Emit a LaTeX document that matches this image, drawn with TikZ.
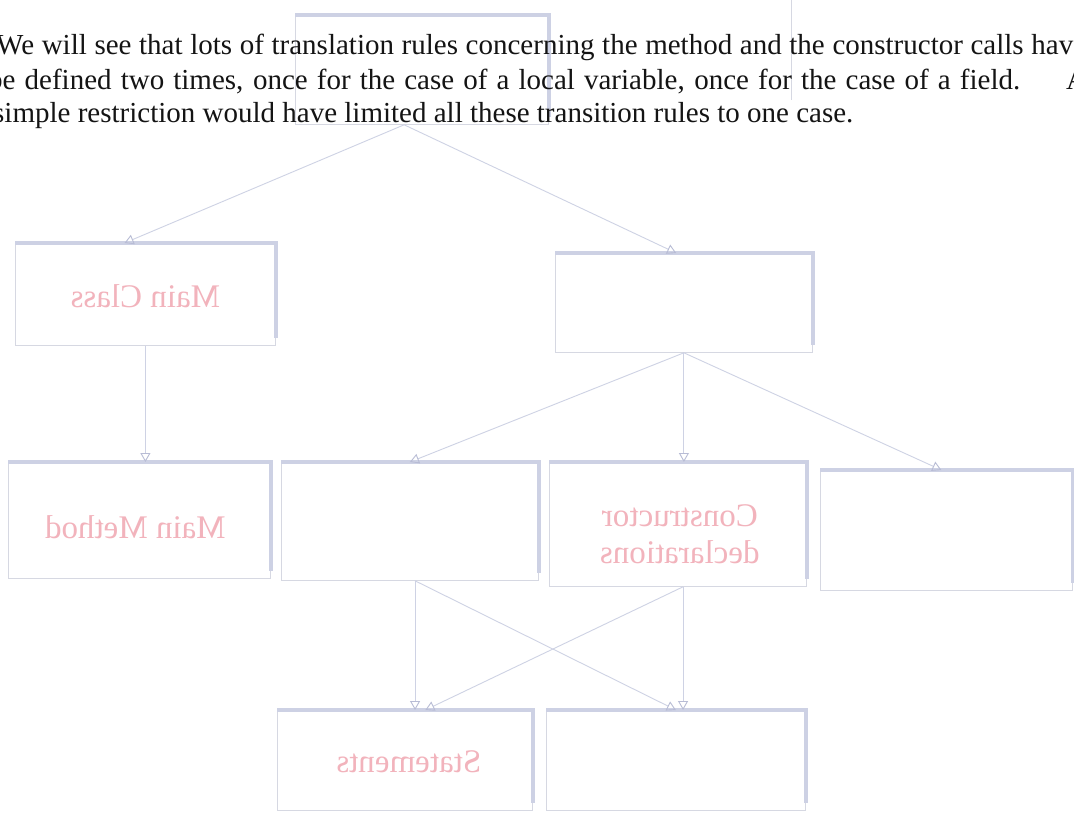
\documentclass[tikz,border=0pt]{standalone}
\usepackage{fontspec}
\setmainfont{Liberation Serif}
\usetikzlibrary{arrows.meta,calc}

\definecolor{ink}{HTML}{141414}
\definecolor{edgecol}{HTML}{D6D8E2}
\definecolor{bandcol}{HTML}{CDD1E4}
\definecolor{linkcol}{HTML}{CED2E4}
\definecolor{tipcol}{HTML}{B8BCD5}
\definecolor{labelcol}{HTML}{F2B3BC}

% mirrored label text
\newcommand{\flipped}[1]{\scalebox{-1}[1]{#1}}

\begin{document}
\begin{tikzpicture}[x=1pt,y=-1pt,
  boxnode/.style={draw=edgecol, line width=0.8pt, rectangle, inner sep=0pt, anchor=north west},
  labeltext/.style={inner sep=0pt, font=\fontsize{33}{37}\selectfont, text=labelcol, align=center},
  band/.style={draw=bandcol, line width=4.5pt},
  link/.style={draw=linkcol, line width=0.9pt,
    -{Triangle[open, length=9pt, width=10pt, color=tipcol]}},
  bodytext/.style={anchor=base west, inner sep=0pt,
    font=\fontsize{29}{33}\selectfont, text=ink}]

\useasboundingbox (0,0) rectangle (1074,813);
\clip (0,0) rectangle (1074,813);
\fill[white] (0,0) rectangle (1074,813);

% faint crease line near the top
\draw[edgecol, line width=0.8pt] (791,0) -- (791,100);

% boxes
\node[boxnode, minimum width=253pt, minimum height=109pt] (top) at (295,15) {};
\node[boxnode, minimum width=260pt, minimum height=102pt] (mc) at (15,243) {};
\node[boxnode, minimum width=257pt, minimum height=99pt] (cm) at (555,253) {};
\node[boxnode, minimum width=262pt, minimum height=116pt] (mm) at (8,462) {};
\node[boxnode, minimum width=257pt, minimum height=118pt] (md) at (281,462) {};
\node[boxnode, minimum width=257pt, minimum height=124pt] (cd) at (549,462) {};
\node[boxnode, minimum width=252pt, minimum height=120pt] (fd) at (820,470) {};
\node[boxnode, minimum width=255pt, minimum height=100pt] (st) at (277,710) {};
\node[boxnode, minimum width=259pt, minimum height=100pt] (sb) at (546,710) {};

% mirrored box labels
\node[labeltext] (mclabel) at ($(mc.center)+(0,2)$) {\flipped{Main Class}};
\node[labeltext] (mmlabel) at ($(mm.center)+(-4,7)$) {\flipped{Main Method}};
\node[labeltext] (cdlabel) at ($(cd.center)+(2,13)$)
  {\flipped{\begin{tabular}{@{}c@{}}Constructor\\declarations\end{tabular}}};
\node[labeltext] (stlabel) at ($(st.center)+(4,1)$) {\flipped{Statements}};

% shadow bands along the top and right edge of each box
\foreach \n in {top,mc,cm,mm,md,cd,fd,st,sb}{
  \draw[band] (\n.north west) -- (\n.north east) -- ($(\n.south east)+(0,-8)$);
}

% connectors
\coordinate (topout) at ($(top.south west)!0.43!(top.south east)$);
\coordinate (mdout) at ($(md.south west)!0.52!(md.south east)$);
\coordinate (cdout) at ($(cd.south west)!0.52!(cd.south east)$);

\draw[link] (topout) -- ($(mc.north west)!0.42!(mc.north east)$);
\draw[link] (topout) -- ($(cm.north west)!0.47!(cm.north east)$);
\draw[link] (mc.south) -- (mc.south |- mm.north);
\draw[link] (cm.south) -- ($(md.north west)!0.5!(md.north east)$);
\draw[link] (cm.south) -- (cm.south |- cd.north);
\draw[link] (cm.south) -- ($(fd.north west)!0.48!(fd.north east)$);
\draw[link] (mdout) -- (mdout |- st.north);
\draw[link] (mdout) -- ($(sb.north west)!0.5!(sb.north east)$);
\draw[link] (cdout) -- ($(st.north west)!0.58!(st.north east)$);
\draw[link] (cdout) -- (cdout |- sb.north);

% paragraph text, justified lines running past the page edges
\node[bodytext] (l1) at (-4,55) {\makebox[1120pt][s]{We will see that lots of translation rules concerning the method and the constructor calls have to}};
\node[bodytext] (l2) at (-12,90) {\makebox[1032pt][s]{be defined two times, once for the case of a local variable, once for the case of a field.}};
\node[bodytext] (l2b) at (1066,90) {A};
\node[bodytext] (l3) at (-7,123) {simple restriction would have limited all these transition rules to one case.};

\end{tikzpicture}
\end{document}
